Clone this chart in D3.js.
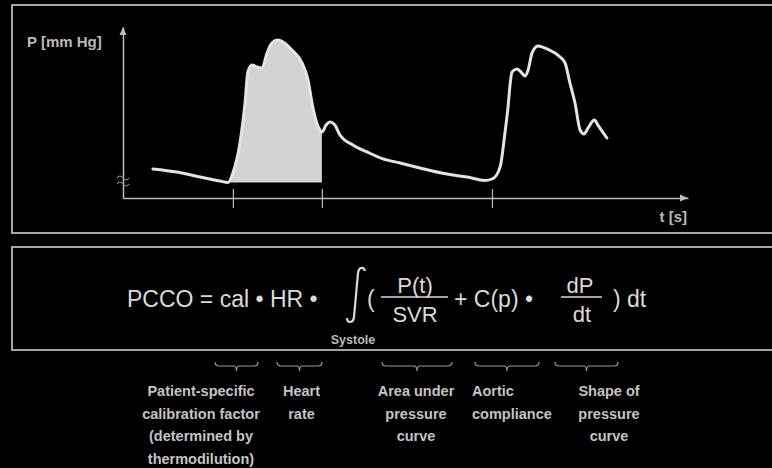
<!DOCTYPE html>
<html><head><meta charset="utf-8">
<script src="https://cdn.jsdelivr.net/npm/d3@7"></script>
<style>html,body{margin:0;padding:0;background:#000;}svg{display:block;}</style>
</head><body>
<script>
// ---- data ----
const timeS = [0.106,0.191,0.273,0.343,0.372,0.389,0.414,0.432,0.442,0.457,0.474,0.492,0.510,0.527,0.549,0.566,0.598,0.634,0.655,0.669,0.680,0.697,0.704,0.719,0.733,0.750,0.768,0.814,0.864,0.920,0.981,1.051,1.147,1.218,1.281,1.310,1.335,1.352,1.363,1.370,1.377,1.395,1.412,1.423,1.434,1.448,1.469,1.501,1.547,1.565,1.582,1.600,1.618,1.632,1.646,1.669,1.681,1.713];
const pressureMmHg = [60.4,58.2,54.7,51.9,50.9,57.5,78.6,106.7,128.4,133.3,131.9,131.2,141.8,148.8,150.9,149.5,143.9,134.7,122.8,106.7,96.8,87.7,86.3,91.2,93.3,91.2,84.2,77.2,72.3,67.4,64.6,61.1,56.8,54.7,52.3,53.7,61.8,85.6,103.9,119.3,128.4,130.5,127.7,125.6,129.8,141.8,146.7,144.6,138.9,134.7,120.7,106.7,87.7,84.9,89.1,94.7,91.2,82.1];
const systoleStartIdx = 4, systoleEndIdx = 22;
const tickTimes = [0.389, 0.704, 1.306];
const yAxisLabel = "P [mm Hg]";
const xAxisLabel = "t [s]";
const termLabels = [
  ["Patient-specific","calibration factor","(determined by","thermodilution)"],
  ["Heart","rate"],
  ["Area under","pressure","curve"],
  ["Aortic","compliance"],
  ["Shape of","pressure","curve"]
];

// ---- layout ----
const W = 772, H = 468;
const svg = d3.select("body").append("svg").attr("width", W).attr("height", H).style("background","#000");
const FONT = "'Liberation Sans', Arial, Helvetica, sans-serif";
const GRAY = "#c4c4c4";

// panel boxes
svg.append("rect").attr("x",12).attr("y",5).attr("width",800).attr("height",228)
  .attr("fill","none").attr("stroke","#cfcfcf").attr("stroke-width",1.6);
svg.append("rect").attr("x",12).attr("y",247).attr("width",800).attr("height",103)
  .attr("fill","none").attr("stroke","#cfcfcf").attr("stroke-width",1.6);

const x = d3.scaleLinear().domain([0,2]).range([123,688]);
const y = d3.scaleLinear().domain([40,160]).range([198,27]);

const pts = timeS.map((t,i)=>[t, pressureMmHg[i]]);
const sys = pts.slice(systoleStartIdx, systoleEndIdx+1);
const base = pressureMmHg[systoleStartIdx];

// shaded systole area
svg.append("path").datum(sys)
  .attr("d", d3.area().x(d=>x(d[0])).y0(y(base)).y1(d=>y(d[1])).curve(d3.curveMonotoneX))
  .attr("fill","#d2d2d2");

// axes
const gx = svg.append("g").attr("transform",`translate(0,${y(40)})`)
  .call(d3.axisBottom(x).tickValues(tickTimes).tickSizeInner(10).tickSizeOuter(0).tickFormat(""));
gx.select(".domain").attr("stroke","#bdbdbd").attr("stroke-width",1.5);
gx.selectAll(".tick line").attr("stroke","#bdbdbd").attr("stroke-width",1.2).attr("y1",-9);
const gy = svg.append("g").attr("transform",`translate(${x(0)},0)`)
  .call(d3.axisLeft(y).tickValues([]).tickSizeOuter(0));
gy.select(".domain").attr("stroke","#bdbdbd").attr("stroke-width",1.5);

// arrowheads
svg.append("path").attr("d",`M${x(0)-3.5},${y(160)+8} L${x(0)},${y(160)} L${x(0)+3.5},${y(160)+8} Z`).attr("fill","#bdbdbd");
svg.append("path").attr("d",`M${x(2)-8},${y(40)-3.5} L${x(2)},${y(40)} L${x(2)-8},${y(40)+3.5} Z`).attr("fill","#bdbdbd");

// axis break squiggles
[0,6].forEach(o=>{
  svg.append("path").attr("d",`M${x(0)-6},${178+o} q3,-4 6,0 t6,0`)
    .attr("fill","none").attr("stroke","#8a8a8a").attr("stroke-width",1.2);
});

// pressure curve
svg.append("path").datum(pts)
  .attr("d", d3.line().x(d=>x(d[0])).y(d=>y(d[1])).curve(d3.curveMonotoneX))
  .attr("fill","none").attr("stroke","#e4e4e4").attr("stroke-width",3).attr("stroke-linejoin","round").attr("stroke-linecap","round");

// axis labels
svg.append("text").attr("x",27).attr("y",47).text(yAxisLabel)
  .attr("font-family",FONT).attr("font-weight","bold").attr("font-size",15).attr("fill","#bbb");
svg.append("text").attr("x",687).attr("y",222).attr("text-anchor","end").text(xAxisLabel)
  .attr("font-family",FONT).attr("font-weight","bold").attr("font-size",15).attr("fill","#bbb");

// formula
const F = svg.append("g").attr("font-family",FONT).attr("fill","#dadada");
function ft(tx, xx, yy, anchor, size){ F.append("text").attr("x",xx).attr("y",yy).attr("text-anchor",anchor||"start").attr("font-size",size||23).text(tx); }
ft("PCCO = cal \u2022 HR \u2022", 127, 306.5);
F.append("path").attr("d","M347,318 c0,5 6,6 7,-1 L358,273 c1,-7 6,-6 7,-2")
  .attr("fill","none").attr("stroke","#dadada").attr("stroke-width",2.2);
ft("(", 367, 306.5);
ft("P(t)", 415, 293, "middle", 22);
F.append("line").attr("x1",381).attr("x2",448).attr("y1",297).attr("y2",297).attr("stroke","#dadada").attr("stroke-width",1.6);
ft("SVR", 415, 321.5, "middle", 22);
ft("+ C(p) \u2022", 454, 307);
ft("dP", 580, 293, "middle", 22);
F.append("line").attr("x1",561).attr("x2",602).attr("y1",297).attr("y2",297).attr("stroke","#dadada").attr("stroke-width",1.6);
ft("dt", 582, 321.5, "middle", 22);
ft(") dt", 613, 306.5);
svg.append("text").attr("x",353).attr("y",344).attr("text-anchor","middle").text("Systole")
  .attr("font-family",FONT).attr("font-weight","bold").attr("font-size",12.5).attr("fill","#bbb");

// braces + term labels
const braces = [[215,258],[277,322],[382,452],[475,539],[555,618]];
const labelX = [[201,"middle"],[301.5,"middle"],[416,"middle"],[472,"start"],[609,"middle"]];
braces.forEach(([a,b],i)=>{
  const m=(a+b)/2, yb=366;
  svg.append("path").attr("d",`M${a},${yb-4} q0,4 4,4 L${m-3},${yb} q3,0 3,5 q0,-5 3,-5 L${b-4},${yb} q4,0 4,-4`)
    .attr("fill","none").attr("stroke","#9a9a9a").attr("stroke-width",1.2);
  termLabels[i].forEach((ln,j)=>{
    svg.append("text").attr("x",labelX[i][0]).attr("y",396+j*22.5).attr("text-anchor",labelX[i][1])
      .attr("font-family",FONT).attr("font-weight","bold").attr("font-size",14.5).attr("fill",GRAY).text(ln);
  });
});
</script>
</body></html>
